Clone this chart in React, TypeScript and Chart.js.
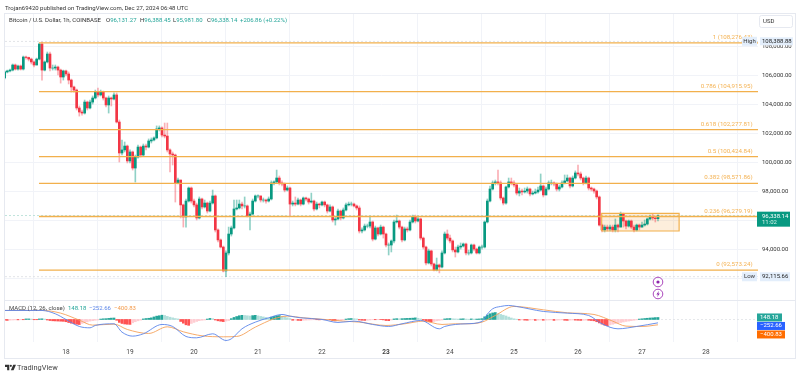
import React, { useEffect, useRef } from "react";
import { Chart, registerables } from "chart.js";

Chart.register(...registerables);

const FIRST_OPEN = 105850;
const FIRST_HOUR = -23;
const closes = [
  106270,106340,106400,106750,106470,106680,106470,107300,107270,107160,
  106960,106750,107160,108200,106400,106960,107510,106540,106540,106610,
  106400,105920,106340,106130,105710,105230,105020,103780,103500,103430,
  104190,103780,104190,104470,104880,104680,104880,104470,103990,104470,
  104400,104680,102810,100670,100880,101150,100120,100740,99630,100390,
  101080,100530,101150,101080,101500,101570,101710,102330,102400,101910,
  101840,100880,100600,100530,98600,98800,97080,96250,97350,98250,
  97350,97080,96180,97490,96940,97210,96660,97210,97700,95350,
  94660,94170,92520,93760,95070,95490,96800,96870,97140,97010,
  97010,96310,96450,97350,97700,97700,97420,97420,97350,97490,
  98600,98670,98940,98600,98530,98110,98250,97140,97210,97140,
  97420,97140,97560,97490,97280,97350,96800,97140,97080,97280,
  97080,96660,96940,96040,96110,96660,96180,96730,97080,97140,
  97140,97010,96870,95280,95350,95620,95620,95900,94720,95490,
  95070,95550,95070,94310,94310,94590,95900,95970,95550,94660,
  95420,95350,95900,96250,95970,96110,94790,94170,93070,93900,
  93000,92580,92930,92790,93760,95070,94790,94590,93970,93830,
  94170,94240,94380,93760,93760,94310,94030,93760,94170,94170,
  95900,97350,98180,98600,98670,98600,97560,97210,98320,98670,
  98600,98460,97900,98040,97980,98040,98180,97840,97900,97980,
  98110,98390,97770,98180,98600,98600,98530,98180,98320,98600,
  98740,98940,98390,98940,99290,99220,98940,98600,98940,98250,
  98180,98040,97630,95690,95350,95550,95420,95550,95350,95690,
  95550,96450,95970,95620,95970,95550,95350,95690,95550,95690,
  95760,96110,96250,96180,96131.27,96338.14,
];
const highs = [
  106340,106400,106470,106820,106820,106750,106750,107370,107370,107300,
  107230,107030,107230,108270,108340,107030,107650,107650,106750,106750,
  106680,106470,106400,106400,106270,105780,105300,105090,103920,103640,
  104330,104260,104330,104610,105020,105160,105020,104950,104540,104610,
  104540,104820,104820,102950,101570,101430,101220,100880,100810,100530,
  101220,101150,101290,101290,101640,101710,101780,102540,102540,102470,
  102740,102740,100950,100740,100600,98940,98800,97140,97490,98320,
  98320,97490,97210,97630,97560,97420,97280,97350,98110,97770,
  95420,94730,94240,93900,95550,95620,97420,97420,97420,97280,
  97630,97080,96590,97490,97770,97770,97700,97560,97490,97630,
  98740,98740,99490,99080,98740,98600,98390,98320,97350,97630,
  97560,97490,97630,97630,97560,97900,97420,97280,97210,97350,
  97350,97140,97080,97010,96250,96800,96730,96870,97210,97280,
  97280,97210,97080,97010,95490,95760,95760,96310,95970,95620,
  95550,95690,95620,95140,94450,94660,96040,96380,96040,95620,
  95550,95550,96040,96380,96380,96310,96180,94860,94240,94030,
  93960,93070,93410,93000,93900,95210,95350,95000,94660,94170,
  94310,94450,94450,94450,93960,94380,94380,94100,94240,94310,
  95970,97490,98390,98740,98800,99490,98740,97630,98390,98940,
  98940,98740,98530,98250,98180,98250,98320,98250,98040,98180,
  98320,99220,98460,98320,98740,98800,98670,98600,98460,98740,
  99150,99150,99010,99080,99430,99840,99360,99010,99080,99010,
  98320,98250,98110,97700,95760,95690,95690,95690,95690,96110,
  95760,96590,96520,96040,96040,96040,95690,95760,95760,95900,
  96040,96180,96380,96450,96310,96388.45,
];
const lows = [
  105780,106200,106270,106340,106400,106400,106400,106400,107160,107030,
  106820,106610,106750,107100,105710,106340,106890,106340,106400,106400,
  106060,105500,105710,105990,105440,104880,104880,103640,103220,103290,
  103360,103640,103710,104050,104400,104540,104610,104330,103850,103430,
  103920,104330,102740,100050,100530,100740,99980,99980,99490,98660,
  100320,100390,100460,100880,101020,101360,101500,101640,102190,101780,
  101710,100740,99360,99840,97280,98530,96180,95550,95550,97280,
  97210,96940,96040,96110,96800,96870,96520,96590,97140,95210,
  94520,94100,92450,92115.66,93620,94930,95420,96730,96800,96800,
  96870,96250,95350,96380,97280,97560,97280,97280,97210,97280,
  97420,98460,98600,98460,98390,97980,98040,96380,97010,97010,
  97080,97010,97080,97350,97140,97210,96660,96730,96870,97010,
  96940,96520,96590,95900,95690,96040,96040,96110,96660,97010,
  97010,96940,96730,95140,95140,95280,95490,95490,94590,94660,
  94930,95000,94790,94170,93620,93830,94450,95830,95420,94520,
  94590,95210,95280,95830,95830,95900,94660,94030,92930,93000,
  92860,92520,92520,92380,92720,93690,94660,94450,93830,93480,
  93760,94030,94170,93620,93620,93690,93900,93690,93690,94030,
  94100,95830,97280,98110,98460,98460,97420,97080,97140,98250,
  98460,98320,97770,97700,97770,97900,97900,97700,97770,97840,
  97900,98040,97630,97770,98110,98460,98390,98040,98040,98250,
  98530,98670,98250,98320,98870,99080,98800,98460,98530,98110,
  98040,97900,97490,95620,95210,95210,95280,95280,95210,95210,
  95210,95550,95550,95420,95550,95420,95210,95280,95350,95550,
  95620,95690,96040,96040,95900,95981.8,
];

const histValues = [
  -60,-70,-50,-40,-30,-30,-20, -20,40,40,30, -20,-20, 40,50,30,
  -40,-80,-100,-110,-120,-130,-140, -170,-230,-280,-320,-360,-380,
  -300,-250,-180,-120,-90,-60,-40, 30,50,60,80,100,110,
  -60,-220,-300,-340,-360,-370, -250,-170,-100,-50, 40,70,90,120,
  190,250,280,320,300, 230,170,120,70,40, -150,-280,-400,-440,
  -300,-220,-150,-90,-60,-40, 30,80,60, -40,-100,-130,-160,-120,-80,
  60,150,220,280,310, 300,280,260, 290,310, 270,230,190,150,100,
  170,230,270,290, 240,190,130,70, -60,-50,-70,-80,-60,-50,-40,
  -30,-20,-20,-30,-20,-20,-10,-20, -90,-110,-100,-80,-40,
  30,60,70,60,40, -40,-60,-70,-60,-40, -20,-20,-10,-10,-30,
  -80,-90,-40, 40,60,50,60,70,80,90,100,120,90, 40,-60,
  -130,-170,-180,-150, -100,-70,-40, 40,60,70,50,40,
  30,40,50,30,20,40,30,30,40,60, 200,330,430,490,520,
  440,380,320,260,180,110,50, 20,
  -40,-30,-50,-60,-40,-30,-70,-50,-40,-60,-50,-40,-30,-70,-50,
  -40,-30,-60,-70,-50,-40,-50,-60,-70,-60,-50,-60,-80,-100,
  -170,-260,-350,-430,-470,
  -400,-360,-310,-270,-230,-190,-150,-120,-90,-60,-30,
  30,50,70,90,110,120,140,148.18,
];

const macdHours = [-23,-9,-4,0,5,9,11,18,21,25,29,36,40,45,49,55,60,62,66,71,76,81,84,88,96,102,108,115,121,126,133,140,142,146,150,156,158,160,163,166,169,179,188,196,201,207,214,222];
const macdValues = [675,675,425,0,-525,-625,-450,-325,-950,-1250,-1075,-375,-525,-1275,-1375,-1075,-1575,-1450,-700,-200,125,375,250,125,0,-225,-125,-375,-525,-325,-75,-700,-525,-375,-325,-150,400,800,975,1050,975,600,475,300,-325,-700,-525,-252.66];
const signalHours = [-23,-9,-2,5,10,18,23,31,38,44,51,59,64,71,78,83,89,97,104,110,120,127,134,141,146,150,156,161,168,179,188,198,205,210,216,222];
const signalValues = [675,675,475,-50,-425,-350,-750,-1050,-550,-925,-1225,-1300,-1275,-575,50,250,125,0,-125,-200,-450,-325,-125,-375,-325,-325,-200,300,975,725,500,375,-125,-500,-525,-400.83];

const fibRatios = ["1", "0.786", "0.618", "0.5", "0.382", "0.236", "0"];
const fibPrices = [108276.43, 104915.95, 102277.81, 100424.84, 98571.86, 96279.19, 92573.24];
const fibStartDay = 17.578;

const boxDays = [26.37, 27.58];
const boxPrices = [96500, 95280];

const HIGH = 108388.88;
const LOW = 92115.66;
const LAST = 96338.14;
const dayTicks = [18, 19, 20, 21, 22, 23, 24, 25, 26, 27, 28];
const priceTicks = [92000, 94000, 96000, 98000, 100000, 102000, 104000, 106000, 108000];
const X_MIN = 17.047;
const X_MAX = 28.8125;

const UP = "#089981";
const DOWN = "#f23645";
const FIB = "#f2b04c";
const FONT = "Roboto, 'Liberation Sans', sans-serif";

const hourToDay = (h: number) => 18 + h / 24;
const fmt = (v: number) =>
  v.toLocaleString("en-US", { minimumFractionDigits: 2, maximumFractionDigits: 2 });

const opens = closes.map((_, i) => (i === 0 ? FIRST_OPEN : closes[i - 1]));
const candleX = closes.map((_, i) => hourToDay(FIRST_HOUR + i));

function lineSet(points: { x: number; y: number }[], color: string, extra: any = {}) {
  return {
    type: "line",
    data: points,
    borderColor: color,
    borderWidth: 1,
    pointRadius: 0,
    tension: 0,
    fill: false,
    yAxisID: "y",
    order: 1,
    ...extra,
  };
}

const overlayPlugin = {
  id: "overlay",
  afterDraw(chart: any) {
    const { ctx, scales } = chart;
    const y = scales.y;
    const m = scales.macd;
    const text = (s: string, x: number, yy: number, color: string, size = 6, align: any = "left", weight = "normal") => {
      ctx.font = `${weight} ${size}px ${FONT}`;
      ctx.fillStyle = color;
      ctx.textAlign = align;
      ctx.textBaseline = "middle";
      ctx.fillText(s, x, yy);
    };
    const box = (x: number, yy: number, w: number, h: number, color: string) => {
      ctx.fillStyle = color;
      ctx.fillRect(x, yy, w, h);
    };
    ctx.save();

    // pane frame
    ctx.strokeStyle = "#e6e9f0";
    ctx.lineWidth = 1;
    ctx.strokeRect(4.5, 13.5, 791, 345);
    ctx.beginPath();
    ctx.moveTo(5, 300.5);
    ctx.lineTo(795, 300.5);
    ctx.stroke();

    // fib labels
    fibRatios.forEach((r, i) => {
      const py = y.getPixelForValue(fibPrices[i]);
      text(`${r} (${fmt(fibPrices[i])})`, 752.7, py - 5.5, "#f4b253", 6.2, "right");
    });

    // high / low tags
    const hy = y.getPixelForValue(HIGH);
    box(742, hy - 4.5, 15, 9, "#e3eefb");
    text("High", 749.5, hy, "#333", 6, "center");
    box(760, hy - 4, 33, 8, "#e3eefb");
    text(fmt(HIGH), 762, hy, "#222", 6);

    const ly = y.getPixelForValue(LOW);
    box(742, ly - 4.5, 15, 9, "#e3eefb");
    text("Low", 749.5, ly, "#333", 6, "center");
    box(760, ly - 4.5, 30, 9, "#e3eefb");
    text(fmt(LOW), 762, ly, "#222", 6);

    // last price tag
    const py = y.getPixelForValue(LAST);
    box(757, py - 4, 33, 15, UP);
    text(fmt(LAST), 762, py + 0.5, "#fff", 6);
    text("11:02", 762, py + 7, "#d5efe9", 6);

    // currency
    ctx.fillStyle = "#fff";
    ctx.strokeStyle = "#e6e9f0";
    ctx.beginPath();
    ctx.roundRect(759.5, 15.5, 33, 12, 2);
    ctx.fill();
    ctx.stroke();
    text("USD", 763, 21.5, "#333", 6);

    // MACD legend
    text("MACD (12, 26, close)", 9, 308, "#444", 6);
    text("148.18", 68, 308, "#26a69a", 6);
    text("\u2212252.66", 89, 308, "#5c86e8", 6);
    text("\u2212400.83", 114, 308, "#f39a4a", 6);

    // MACD value tags
    const tags: [number, string, number][] = [
      [148.18, "#26a69a", 25],
      [-252.66, "#2962ff", 28],
      [-400.83, "#ff6d00", 28],
    ];
    const zero = m.getPixelForValue(0);
    tags.forEach(([v, c, w], i) => {
      const ty = zero - 6 + i * 8.5;
      box(757, ty, w, 8, c);
      text(i === 0 ? fmt(v) : fmt(v).replace("-", "\u2212"), 760, ty + 4, "#fff", 6);
    });

    // event icons
    ctx.strokeStyle = "#ab47bc";
    ctx.lineWidth = 1;
    ctx.beginPath();
    ctx.arc(658, 282, 4.8, 0, Math.PI * 2);
    ctx.stroke();
    ctx.fillStyle = "#8e24aa";
    ctx.beginPath();
    ctx.arc(658, 282, 1.6, 0, Math.PI * 2);
    ctx.fill();
    ctx.beginPath();
    ctx.arc(658, 294, 4.8, 0, Math.PI * 2);
    ctx.stroke();
    ctx.beginPath();
    ctx.moveTo(659, 290.8);
    ctx.lineTo(656.4, 294.4);
    ctx.lineTo(658, 294.4);
    ctx.lineTo(657, 297.2);
    ctx.lineTo(659.8, 293.6);
    ctx.lineTo(658.2, 293.6);
    ctx.closePath();
    ctx.fill();
    ctx.restore();
  },
};

export default function App() {
  const ref = useRef<HTMLCanvasElement>(null);

  useEffect(() => {
    const fibSets = fibPrices.map((p) =>
      lineSet(
        [
          { x: fibStartDay, y: p },
          { x: X_MAX, y: p },
        ],
        FIB,
        { borderWidth: 1.3 }
      )
    );
    const spanLine = (v: number, color: string, axis = "y", order = 2) =>
      lineSet(
        [
          { x: X_MIN, y: v },
          { x: X_MAX, y: v },
        ],
        color,
        { borderDash: [2, 2], borderWidth: 0.7, yAxisID: axis, order }
      );

    const config: any = {
      type: "bar",
      data: {
        datasets: [
          spanLine(LAST, "#a5d8cd", "y", 8),
          spanLine(HIGH, "#d6d8dd", "y", 8),
          spanLine(LOW, "#d6d8dd", "y", 8),
          spanLine(0, "#dcdee2", "macd", 8),
          ...fibSets,
          lineSet(
            [
              { x: boxDays[0], y: boxPrices[0] },
              { x: boxDays[1], y: boxPrices[0] },
            ],
            "rgba(0,0,0,0)",
            { fill: { value: boxPrices[1] }, backgroundColor: "rgba(247,170,80,0.2)", borderWidth: 0, order: 7 }
          ),
          lineSet(
            [
              { x: boxDays[0], y: boxPrices[1] },
              { x: boxDays[0], y: boxPrices[0] },
              { x: boxDays[1], y: boxPrices[0] },
              { x: boxDays[1], y: boxPrices[1] },
              { x: boxDays[0], y: boxPrices[1] },
            ],
            FIB,
            { borderWidth: 1.2, order: 1 }
          ),
          {
            type: "bar",
            data: candleX.map((x, i) => ({ x, y: [lows[i], highs[i]] })),
            backgroundColor: closes.map((c, i) =>
              c >= opens[i] ? "rgba(8,153,129,0.45)" : "rgba(242,54,69,0.4)"
            ),
            barThickness: 1,
            grouped: false,
            yAxisID: "y",
            order: 5,
          },
          {
            type: "bar",
            data: candleX.map((x, i) => ({ x, y: [opens[i], closes[i]] })),
            backgroundColor: closes.map((c, i) => (c >= opens[i] ? UP : DOWN)),
            barThickness: 2,
            grouped: false,
            yAxisID: "y",
            order: 4,
          },
          {
            type: "bar",
            data: candleX.map((x, i) => ({ x, y: histValues[i] })),
            backgroundColor: histValues.map((v, i) => {
              const prev = i === 0 ? 0 : histValues[i - 1];
              if (v >= 0) return v >= prev ? "#26a69a" : "#b2dfdb";
              return v <= prev ? "#ff5252" : "#ffcdd2";
            }),
            barThickness: 2,
            grouped: false,
            yAxisID: "macd",
            order: 3,
          },
          lineSet(
            macdHours.map((h, i) => ({ x: hourToDay(h), y: macdValues[i] })),
            "#5b86ea",
            { yAxisID: "macd", cubicInterpolationMode: "monotone", borderWidth: 0.9 }
          ),
          lineSet(
            signalHours.map((h, i) => ({ x: hourToDay(h), y: signalValues[i] })),
            "#f5a25a",
            { yAxisID: "macd", cubicInterpolationMode: "monotone", borderWidth: 0.9 }
          ),
        ],
      },
      options: {
        responsive: false,
        animation: false,
        events: [],
        layout: { padding: { left: 5, top: 13, right: 0, bottom: 0 } },
        plugins: { legend: { display: false }, tooltip: { enabled: false } },
        scales: {
          x: {
            type: "linear",
            position: "bottom",
            min: X_MIN,
            max: X_MAX,
            offset: false,
            afterFit: (s: any) => {
              s.height = 34;
            },
            afterBuildTicks: (s: any) => {
              s.ticks = dayTicks.map((value) => ({ value }));
            },
            grid: { color: "#f1f3f8", drawTicks: false },
            border: { display: false },
            ticks: {
              padding: 6,
              color: "#444",
              maxRotation: 0,
              autoSkip: false,
              font: (c: any) => ({
                family: FONT,
                size: 6.5,
                weight: c.tick && c.tick.value === 23 ? "bold" : "normal",
              }),
              callback: (v: any) => String(v),
            },
          },
          y: {
            type: "linear",
            position: "right",
            stack: "panes",
            stackWeight: 287,
            min: 90510,
            max: 110344,
            afterFit: (s: any) => {
              s.width = 42;
            },
            afterBuildTicks: (s: any) => {
              s.ticks = priceTicks.map((value) => ({ value }));
            },
            grid: { color: "#f1f3f8", drawTicks: false },
            border: { display: false },
            ticks: {
              padding: 4,
              color: "#333",
              font: { family: FONT, size: 6 },
              callback: (v: any) => fmt(Number(v)),
            },
          },
          macd: {
            type: "linear",
            position: "right",
            stack: "panes",
            stackWeight: 42,
            min: -1690,
            max: 1460,
            afterFit: (s: any) => {
              s.width = 42;
            },
            grid: { display: false },
            border: { display: false },
            ticks: { display: false },
          },
        },
      },
      plugins: [overlayPlugin],
    };
    const chart = new Chart(ref.current as HTMLCanvasElement, config);
    return () => chart.destroy();
  }, []);

  const pos = (left: number, top: number, color: string, size = 6): React.CSSProperties => ({
    position: "absolute",
    left,
    top,
    color,
    fontSize: size,
    lineHeight: "8px",
    whiteSpace: "nowrap",
    fontFamily: FONT,
  });
  const green = "#26a69a";

  return (
    <div style={{ position: "fixed", left: 0, top: 0, width: 800, height: 376, background: "#fff", overflow: "hidden" }}>
      <canvas ref={ref} width={800} height={376} style={{ display: "block", position: "absolute", left: 0, top: 0 }} />
      <span style={pos(5, 4, "#333")}>Trojan69420 published on TradingView.com, Dec 27, 2024 06:48 UTC</span>
      <span style={pos(9, 16, "#333")}>Bitcoin / U.S. Dollar, 1h, COINBASE</span>
      <span style={pos(106, 16, "#333")}>O<span style={{ color: green }}>96,131.27</span></span>
      <span style={pos(140, 16, "#333")}>H<span style={{ color: green }}>96,388.45</span></span>
      <span style={pos(173, 16, "#333")}>L<span style={{ color: green }}>95,981.80</span></span>
      <span style={pos(207, 16, "#333")}>C<span style={{ color: green }}>96,338.14</span></span>
      <span style={pos(240, 16, green)}>+206.86 (+0.22%)</span>
      <svg width={11} height={7} viewBox="0 0 36 18" style={{ position: "absolute", left: 5, top: 364 }}>
        <path d="M0 0h14v18H7V7H0z" fill="#333" />
        <circle cx="19" cy="3.6" r="3.6" fill="#333" />
        <path d="M27 0h9l-8 18h-9z" fill="#333" />
      </svg>
      <span style={pos(17, 363.5, "#444", 7.4)}>TradingView</span>
    </div>
  );
}
